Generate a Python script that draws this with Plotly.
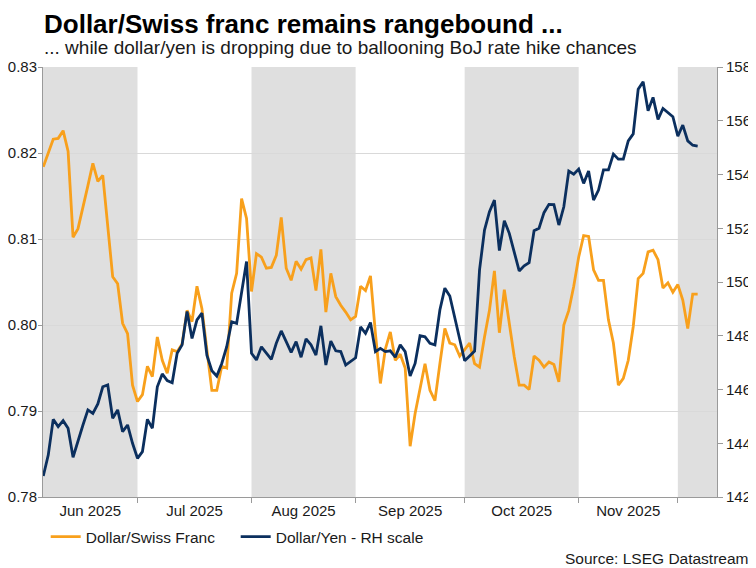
import numpy as np
import pandas as pd
import plotly.graph_objects as go

# ---------------- data ----------------
start_date = "2025-06-04"   # first business day shown

chf = [0.8184, 0.8200, 0.8216, 0.8217, 0.8226, 0.8202, 0.8102, 0.8112, 0.8136, 0.8162,
       0.8188, 0.8167, 0.8174, 0.8115, 0.8056, 0.8048, 0.8002, 0.7990, 0.7930, 0.7911,
       0.7919, 0.7952, 0.7940, 0.7986, 0.7959, 0.7944, 0.7971, 0.7969, 0.7978, 0.8017,
       0.8004, 0.8045, 0.8019, 0.7971, 0.7924, 0.7924, 0.7952, 0.7950, 0.8037, 0.8060,
       0.8147, 0.8124, 0.8039, 0.8083, 0.8079, 0.8066, 0.8067, 0.8081, 0.8125, 0.8066,
       0.8052, 0.8074, 0.8065, 0.8076, 0.8078, 0.8040, 0.8088, 0.8015, 0.8060, 0.8033,
       0.8023, 0.8015, 0.8006, 0.8010, 0.8045, 0.8040, 0.8057, 0.7990, 0.7932, 0.7972,
       0.7992, 0.7959, 0.7966, 0.7950, 0.7859, 0.7897, 0.7926, 0.7955, 0.7924, 0.7912,
       0.7955, 0.7996, 0.7979, 0.7977, 0.7964, 0.7972, 0.7979, 0.7955, 0.7951, 0.7986,
       0.8017, 0.8063, 0.7991, 0.8041, 0.8002, 0.7963, 0.7930, 0.7930, 0.7925, 0.7964,
       0.7959, 0.7951, 0.7957, 0.7954, 0.7934, 0.8000, 0.8017, 0.8045, 0.8079, 0.8104,
       0.8103, 0.8064, 0.8052, 0.8052, 0.8006, 0.7979, 0.7930, 0.7938, 0.7959, 0.7998,
       0.8054, 0.8060, 0.8085, 0.8087, 0.8076, 0.8043, 0.8049, 0.8038, 0.8047, 0.8029,
       0.7996, 0.8036, 0.8036]

jpy = [142.78, 143.56, 144.89, 144.62, 144.84, 144.56, 143.48, 144.12, 144.68, 145.24,
       145.11, 145.46, 146.10, 146.17, 144.93, 145.24, 144.43, 144.68, 144.00, 143.44,
       143.69, 144.89, 144.56, 146.10, 146.58, 146.33, 146.25, 147.35, 147.66, 148.90,
       147.90, 148.59, 148.84, 147.28, 146.70, 146.50, 146.97, 147.59, 148.52, 148.46,
       149.58, 150.76, 147.35, 147.10, 147.59, 147.35, 147.12, 147.72, 148.18, 147.78,
       147.38, 147.78, 147.20, 147.88, 147.66, 147.28, 148.37, 146.91, 147.80, 147.44,
       147.41, 146.91, 147.03, 147.18, 148.33, 148.09, 148.49, 147.41, 147.53, 147.41,
       147.44, 147.20, 147.66, 147.41, 146.50, 146.97, 148.00, 147.96, 147.72, 147.66,
       148.96, 149.77, 149.48, 148.71, 147.90, 147.07, 147.25, 147.43, 150.45, 151.93,
       152.62, 153.05, 151.17, 152.28, 151.81, 151.07, 150.41, 150.60, 150.72, 151.91,
       152.00, 152.58, 152.89, 152.88, 152.12, 152.80, 154.13, 154.01, 154.20, 153.67,
       154.13, 153.05, 153.42, 154.17, 154.17, 154.76, 154.57, 154.57, 155.25, 155.51,
       157.17, 157.45, 156.37, 156.87, 156.05, 156.46, 156.30, 156.15, 155.43, 155.84,
       155.25, 155.09, 155.06]

month_starts = ["2025-06-02", "2025-07-01", "2025-08-01", "2025-09-01",
                "2025-10-01", "2025-11-03", "2025-12-01"]
month_labels = ["Jun 2025", "Jul 2025", "Aug 2025", "Sep 2025", "Oct 2025", "Nov 2025"]
shaded_months = [0, 2, 4, 6]   # Jun, Aug, Oct, Dec

left_ticks = [0.78, 0.79, 0.80, 0.81, 0.82, 0.83]
right_ticks = [142, 144, 146, 148, 150, 152, 154, 156, 158]

ORANGE = "#F8A01C"
NAVY = "#0B2F5E"
FONT = "Liberation Sans, Arial, sans-serif"

# ---------------- business-day axis ----------------
origin = np.datetime64("2025-06-02")
dates = pd.bdate_range(start_date, periods=len(chf)).values.astype("datetime64[D]")
x = np.busday_count(origin, dates).astype(float)
bounds = [float(np.busday_count(origin, np.datetime64(d))) for d in month_starts]

x_lo = x[0] - 0.06
x_hi = x[-1] + 3.9

label_pos = []
for k in range(len(month_labels)):
    a = max(bounds[k], x_lo)
    b = bounds[k + 1]
    label_pos.append((a + b) / 2)

fig = go.Figure()
fig.add_trace(go.Scatter(x=x, y=chf, mode="lines", name="Dollar/Swiss Franc",
                         line=dict(color=ORANGE, width=2.8), yaxis="y"))
fig.add_trace(go.Scatter(x=x, y=jpy, mode="lines", name="Dollar/Yen - RH scale",
                         line=dict(color=NAVY, width=2.8), yaxis="y2"))

shapes = []
for k in shaded_months:
    a = max(bounds[k], x_lo)
    b = bounds[k + 1] if k + 1 < len(bounds) else x_hi
    shapes.append(dict(type="rect", xref="x", yref="paper", x0=a, x1=b, y0=0, y1=1,
                       fillcolor="#DFDFDF", line=dict(width=0), layer="below"))

# page body has an 8px margin, so the figure is 8px smaller and offset
fig.update_layout(
    width=748, height=560,
    margin=dict(l=35, r=39, t=59, b=71, autoexpand=False),
    paper_bgcolor="white", plot_bgcolor="white",
    font=dict(family=FONT, size=15, color="#1a1a1a"),
    shapes=shapes,
    showlegend=True,
    legend=dict(orientation="h", x=0.004, xanchor="left", y=-0.093, yanchor="middle",
                font=dict(size=15.5, color="#1a1a1a"), bgcolor="rgba(0,0,0,0)",
                itemwidth=30, tracegroupgap=0, entrywidth=145, entrywidthmode="pixels"),
    xaxis=dict(range=[x_lo, x_hi], tickmode="array", tickvals=label_pos, ticktext=month_labels,
               ticks="", showgrid=False, zeroline=False, showline=True, linecolor="#9a9a9a",
               linewidth=1, tickfont=dict(size=15), automargin=False,
               minor=dict(tickmode="array", tickvals=bounds[1:], ticks="outside", ticklen=5,
                          tickcolor="#9a9a9a", tickwidth=1, showgrid=False)),
    yaxis=dict(range=[0.78, 0.83], tickmode="array", tickvals=left_ticks, tickformat=".2f",
               ticks="outside", ticklen=4, tickcolor="#9a9a9a", showline=True,
               linecolor="#9a9a9a", linewidth=1, showgrid=True, gridcolor="#D9D9D9",
               gridwidth=1, zeroline=False, tickfont=dict(size=15), automargin=False,
               ticklabelstandoff=-2),
    yaxis2=dict(range=[142, 158], tickmode="array", tickvals=right_ticks, overlaying="y",
                side="right", ticks="outside", ticklen=5, tickcolor="#9a9a9a", showline=True,
                linecolor="#9a9a9a", linewidth=1, showgrid=False, zeroline=False,
                tickfont=dict(size=15), automargin=False),
    annotations=[
        dict(text="<b>Dollar/Swiss franc remains rangebound ...</b>", xref="paper", yref="paper",
             x=(42 - 43) / 674, y=(497 - 23.5) / 430, xanchor="left", yanchor="middle",
             showarrow=False, font=dict(size=26, color="#000000", family=FONT)),
        dict(text="... while dollar/yen is dropping due to ballooning BoJ rate hike chances",
             xref="paper", yref="paper", x=(42 - 43) / 674, y=(497 - 48) / 430,
             xanchor="left", yanchor="middle", showarrow=False,
             font=dict(size=19, color="#1a1a1a", family=FONT)),
        dict(text="Source: LSEG Datastream", xref="paper", yref="paper",
             x=(751 - 43) / 674, y=(497 - 558) / 430, xanchor="right", yanchor="middle",
             showarrow=False, font=dict(size=15.5, color="#1a1a1a", family=FONT)),
    ],
)

fig.write_html("out.html")
